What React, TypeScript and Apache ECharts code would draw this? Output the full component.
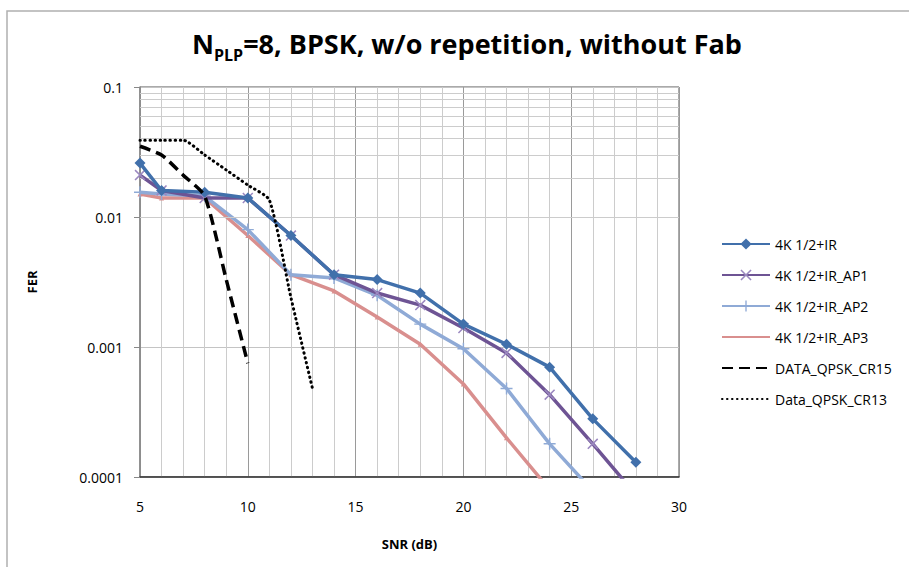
import React, { useEffect, useRef } from "react";
import * as echarts from "echarts";

const seriesNames = [
  "4K 1/2+IR",
  "4K 1/2+IR_AP1",
  "4K 1/2+IR_AP2",
  "4K 1/2+IR_AP3",
  "DATA_QPSK_CR15",
  "Data_QPSK_CR13",
];

const snrIR = [5, 6, 8, 10, 12, 14, 16, 18, 20, 22, 24, 26, 28];
const ferIR = [0.026, 0.016, 0.0155, 0.014, 0.0072, 0.0036, 0.0033, 0.0026, 0.0015, 0.00105, 0.0007, 0.00028, 0.00013];

const snrAP1 = [5, 6, 8, 10, 12, 14, 16, 18, 20, 22, 24, 26, 28];
const ferAP1 = [0.021, 0.016, 0.014, 0.014, 0.0072, 0.0036, 0.0026, 0.0021, 0.0014, 0.0009, 0.00043, 0.00018, 0.000073];

const snrAP2 = [5, 6, 8, 10, 12, 14, 16, 18, 20, 22, 24, 26];
const ferAP2 = [0.0155, 0.015, 0.0145, 0.008, 0.0036, 0.0034, 0.0025, 0.0015, 0.00097, 0.00048, 0.00018, 0.000078];

const snrAP3 = [5, 6, 8, 10, 12, 14, 16, 18, 20, 22, 24];
const ferAP3 = [0.015, 0.014, 0.014, 0.0072, 0.0036, 0.0027, 0.0017, 0.00105, 0.00052, 0.0002, 0.00008];

const snrCR15 = [5, 6, 7, 8, 9, 10];
const ferCR15 = [0.035, 0.03, 0.021, 0.0145, 0.0033, 0.00075];

const snrCR13 = [5, 6, 7, 8, 9, 10, 11, 12, 13];
const ferCR13 = [0.039, 0.039, 0.039, 0.03, 0.023, 0.0176, 0.0135, 0.0024, 0.00048];

const xTicks = { min: 5, max: 30, interval: 5 };
const yRange = { min: 0.0001, max: 0.1 };
// minor log grid lines (2..9 x 10^k)
const minorMultipliers = [2, 3, 4, 5, 6, 7, 8, 9];
const minorDecades = [0.0001, 0.001, 0.01];

const FONT = "'Liberation Sans Narrow', 'Open Sans', 'Noto Sans', sans-serif";

const pairs = (xs: number[], ys: number[]) => xs.map((x, i) => [x, ys[i]]);

const X_SYMBOL =
  "path://M1,0 L5,4 L9,0 L10,1 L6,5 L10,9 L9,10 L5,6 L1,10 L0,9 L4,5 L0,1 Z";
const PLUS_SYMBOL =
  "path://M4.4,0 H5.6 V4.4 H10 V5.6 H5.6 V10 H4.4 V5.6 H0 V4.4 H4.4 Z";

export default function App() {
  const ref = useRef<HTMLDivElement>(null);
  useEffect(() => {
    if (!ref.current) return;
    const chart = echarts.init(ref.current, undefined, { renderer: "svg" });
    const minorLines: { yAxis: number }[] = [];
    minorDecades.forEach((d) =>
      minorMultipliers.forEach((m) => minorLines.push({ yAxis: +(m * d).toPrecision(3) }))
    );
    chart.setOption({
      animation: false,
      backgroundColor: "#ffffff",
      title: {
        left: 462,
        top: 18,
        textAlign: "center",
        text: "{a|N}{b|PLP}{a|=8, BPSK, w/o repetition, without Fab}",
        textStyle: {
          rich: {
            a: { fontFamily: FONT, fontSize: 27, fontWeight: "bold", color: "#000", verticalAlign: "bottom", lineHeight: 34 },
            b: { fontFamily: FONT, fontSize: 16, fontWeight: "bold", color: "#000", verticalAlign: "bottom", lineHeight: 24, padding: [0, 0, -6, 0] },
          },
        },
      },
      grid: {
        left: 140,
        top: 87,
        width: 539,
        height: 390,
        show: true,
        borderColor: "#555",
        borderWidth: 1,
        backgroundColor: "transparent",
      },
      legend: {
        data: [
          { name: seriesNames[0] },
          { name: seriesNames[1] },
          { name: seriesNames[2] },
          { name: seriesNames[3], itemStyle: { opacity: 0 } },
          { name: seriesNames[4], itemStyle: { opacity: 0 } },
          { name: seriesNames[5], itemStyle: { opacity: 0 } },
        ],
        orient: "vertical",
        left: 716,
        top: 232,
        itemWidth: 48,
        itemHeight: 14,
        itemGap: 17,
        textStyle: { fontFamily: FONT, fontSize: 14, color: "#000" },
      },
      graphic: [
        {
          type: "rect",
          shape: { x: 7, y: 11, width: 1000, height: 1000 },
          style: { fill: "none", stroke: "#b0b0b0", lineWidth: 1.5 },
          silent: true,
        },
      ],
      xAxis: {
        type: "value",
        min: xTicks.min,
        max: xTicks.max,
        interval: xTicks.interval,
        name: "SNR (dB)",
        nameLocation: "middle",
        nameGap: 60,
        nameTextStyle: { fontFamily: FONT, fontSize: 13, fontWeight: "bold", color: "#000" },
        axisLine: { show: true, lineStyle: { color: "#333", width: 1.5 } },
        axisTick: { show: false },
        axisLabel: { margin: 22, fontFamily: FONT, fontSize: 14, color: "#000" },
        splitLine: { show: true, lineStyle: { color: "#9a9a9a", width: 1 } },
        minorTick: { show: false, splitNumber: 5 },
        minorSplitLine: { show: true, lineStyle: { color: "#cccccc", width: 1 } },
      },
      yAxis: {
        type: "log",
        logBase: 10,
        min: yRange.min,
        max: yRange.max,
        name: "FER",
        nameLocation: "middle",
        nameGap: 102,
        nameTextStyle: { fontFamily: FONT, fontSize: 13, fontWeight: "bold", color: "#000" },
        axisLine: { show: true, lineStyle: { color: "#888", width: 1.5 } },
        axisTick: { show: true, length: 6, lineStyle: { color: "#888" } },
        axisLabel: {
          margin: 17,
          fontFamily: FONT,
          fontSize: 14,
          color: "#000",
          formatter: (v: number) => String(+v.toPrecision(1)),
        },
        splitLine: { show: true, lineStyle: { color: "#c4c4c4", width: 1 } },
      },
      series: [
        {
          name: "__grid",
          type: "line",
          data: [],
          silent: true,
          z: 0,
          markLine: {
            silent: true,
            symbol: ["none", "none"],
            label: { show: false },
            lineStyle: { color: "#cccccc", width: 1, type: "solid" },
            data: minorLines,
            animation: false,
          },
        },
        {
          name: seriesNames[0],
          type: "line",
          data: pairs(snrIR, ferIR),
          symbol: "diamond",
          symbolSize: 11,
          color: "#4170AB",
          lineStyle: { width: 3.5, color: "#4170AB" },
          itemStyle: { color: "#4170AB" },
          z: 6,
        },
        {
          name: seriesNames[1],
          type: "line",
          data: pairs(snrAP1, ferAP1),
          symbol: X_SYMBOL,
          symbolSize: 11,
          color: "#6E5494",
          lineStyle: { width: 3.5, color: "#6E5494" },
          itemStyle: { color: "#9B88C0" },
          z: 5,
        },
        {
          name: seriesNames[2],
          type: "line",
          data: pairs(snrAP2, ferAP2),
          symbol: PLUS_SYMBOL,
          symbolSize: 12,
          color: "#8FAAD6",
          lineStyle: { width: 3.5, color: "#8FAAD6" },
          itemStyle: { color: "#8FAAD6" },
          z: 4,
        },
        {
          name: seriesNames[3],
          type: "line",
          data: pairs(snrAP3, ferAP3),
          symbol: "triangle",
          symbolSize: 5,
          color: "#D98F8E",
          lineStyle: { width: 3.5, color: "#D98F8E" },
          itemStyle: { color: "#D98F8E" },
          z: 3,
        },
        {
          name: seriesNames[4],
          type: "line",
          data: pairs(snrCR15, ferCR15),
          showSymbol: false,
          symbol: "none",
          smooth: 0.2,
          color: "#000",
          lineStyle: { width: 3.5, color: "#000", type: [11, 6] },
          z: 7,
        },
        {
          name: seriesNames[5],
          type: "line",
          data: pairs(snrCR13, ferCR13),
          showSymbol: false,
          symbol: "none",
          smooth: 0.2,
          color: "#000",
          lineStyle: { width: 3, color: "#000", type: [0.5, 4.5], cap: "round" },
          z: 7,
        },
      ],
    });
    return () => chart.dispose();
  }, []);
  return (
    <div
      ref={ref}
      style={{ position: "fixed", left: 0, top: 0, width: 909, height: 567, background: "#fff" }}
    />
  );
}
